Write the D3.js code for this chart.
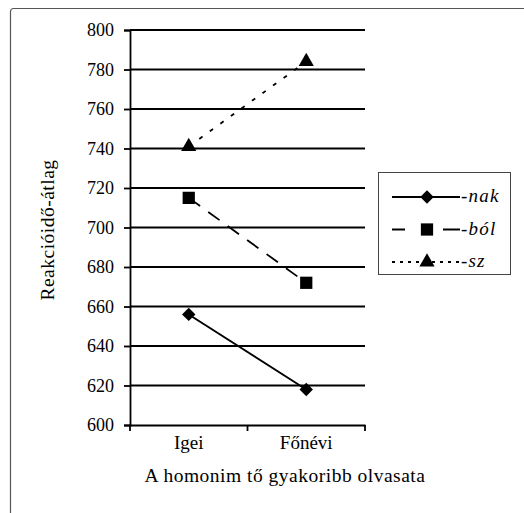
<!DOCTYPE html>
<html>
<head>
<meta charset="utf-8">
<script src="https://cdn.jsdelivr.net/npm/d3@7"></script>
<style>
    body { margin: 0; background: #fff; }
</style>
</head>
<body>
<svg id="chart" width="524" height="513"></svg>
<script>
const categories = ['Igei', 'Főnévi'];
const seriesNames = ['-nak', '-ból', '-sz'];
const nakValues = [656, 618];
const bolValues = [715, 672];
const szValues = [741, 784];
const yTicks = [600, 620, 640, 660, 680, 700, 720, 740, 760, 780, 800];

const FONT = "'Liberation Serif', 'DejaVu Serif', serif";

// dash: pattern on the plot, ldash: pattern in the legend key
const series = [
    { name: seriesNames[0], values: nakValues, dash: null, ldash: null, symbol: 'diamond' },
    { name: seriesNames[1], values: bolValues, dash: '14,10', ldash: '13,38,17', symbol: 'square' },
    { name: seriesNames[2], values: szValues, dash: '4,9', ldash: '3,5', symbol: 'triangle' },
];

const svg = d3.select('#chart');
const plotL = 130, plotR = 365, plotT = 30, plotB = 425;

// outer frame (only top/left visible)
svg.append('rect')
    .attr('x', 10.5).attr('y', 8.5)
    .attr('width', 530).attr('height', 520)
    .attr('rx', 3)
    .attr('fill', 'none')
    .attr('stroke', '#555')
    .attr('stroke-width', 1.2);

const x = d3.scaleBand().domain(categories).range([plotL, plotR]);
const y = d3.scaleLinear().domain([600, 800]).range([plotB, plotT]);

// gridlines
svg.append('g')
    .selectAll('line')
    .data(yTicks.slice(1))
    .join('line')
    .attr('x1', plotL).attr('x2', plotR)
    .attr('y1', d => y(d)).attr('y2', d => y(d))
    .attr('stroke', '#000')
    .attr('stroke-width', 1.8);

const yAxis = svg.append('g')
    .attr('transform', `translate(${plotL},0)`)
    .call(d3.axisLeft(y).tickValues(yTicks).tickSize(6).tickPadding(10));
yAxis.attr('font-family', FONT).attr('font-size', 18);
yAxis.select('.domain').attr('stroke-width', 1.8);
yAxis.selectAll('.tick line').attr('stroke-width', 1.8);

const xAxis = svg.append('g')
    .attr('transform', `translate(0,${plotB})`)
    .call(d3.axisBottom(x).tickSize(0).tickPadding(11));
xAxis.attr('font-family', FONT).attr('font-size', 19);
xAxis.select('.domain').attr('stroke-width', 1.8);
// category separators
xAxis.append('g')
    .selectAll('line')
    .data([plotL, x(categories[1]), plotR])
    .join('line')
    .attr('x1', d => d).attr('x2', d => d)
    .attr('y1', 0).attr('y2', 6)
    .attr('stroke', '#000')
    .attr('stroke-width', 1.8);

svg.append('text')
    .attr('x', 285)
    .attr('y', 482)
    .attr('text-anchor', 'middle')
    .attr('font-family', FONT)
    .attr('font-size', 19.5)
    .attr('letter-spacing', 0.5)
    .text('A homonim tő gyakoribb olvasata');

svg.append('text')
    .attr('transform', 'translate(54,230) rotate(-90)')
    .attr('text-anchor', 'middle')
    .attr('font-family', FONT)
    .attr('font-size', 19.5)
    .attr('letter-spacing', 0.5)
    .text('Reakcióidő-átlag');

const cx = c => x(c) + x.bandwidth() / 2;
const line = d3.line().x((d, i) => cx(categories[i])).y(d => y(d));

function marker(sel, type) {
    if (type === 'diamond') {
        sel.attr('d', d3.symbol().type(d3.symbolSquare).size(90))
            .attr('transform', function () { return d3.select(this).attr('transform') + ' rotate(45)'; });
    } else if (type === 'square') {
        sel.attr('d', d3.symbol().type(d3.symbolSquare).size(150));
    } else {
        sel.attr('d', d3.symbol().type(d3.symbolTriangle).size(100));
    }
    sel.attr('fill', '#000');
}

series.forEach(s => {
    svg.append('path')
        .attr('d', line(s.values))
        .attr('fill', 'none')
        .attr('stroke', '#000')
        .attr('stroke-width', 1.8)
        .attr('stroke-dasharray', s.dash);
    svg.append('g')
        .selectAll('path')
        .data(s.values)
        .join('path')
        .attr('transform', (d, i) => `translate(${cx(categories[i])},${y(d)})`)
        .call(marker, s.symbol);
});

// legend
const lg = svg.append('g');
lg.append('rect')
    .attr('x', 378.5).attr('y', 172.5)
    .attr('width', 132).attr('height', 102)
    .attr('fill', '#fff')
    .attr('stroke', '#444')
    .attr('stroke-width', 1);
const rowY = d3.scalePoint().domain(seriesNames).range([197, 262]);
series.forEach(s => {
    const ry = rowY(s.name);
    lg.append('line')
        .attr('x1', 392).attr('x2', 460)
        .attr('y1', ry).attr('y2', ry)
        .attr('stroke', '#000')
        .attr('stroke-width', 1.8)
        .attr('stroke-dasharray', s.ldash);
    lg.append('path')
        .attr('transform', `translate(427,${ry})`)
        .call(marker, s.symbol);
    lg.append('text')
        .attr('x', 461).attr('y', ry + 5)
        .attr('font-family', FONT)
        .attr('font-size', 19)
        .attr('font-style', 'italic')
        .attr('letter-spacing', 1.2)
        .text(s.name);
});
</script>
</body>
</html>
